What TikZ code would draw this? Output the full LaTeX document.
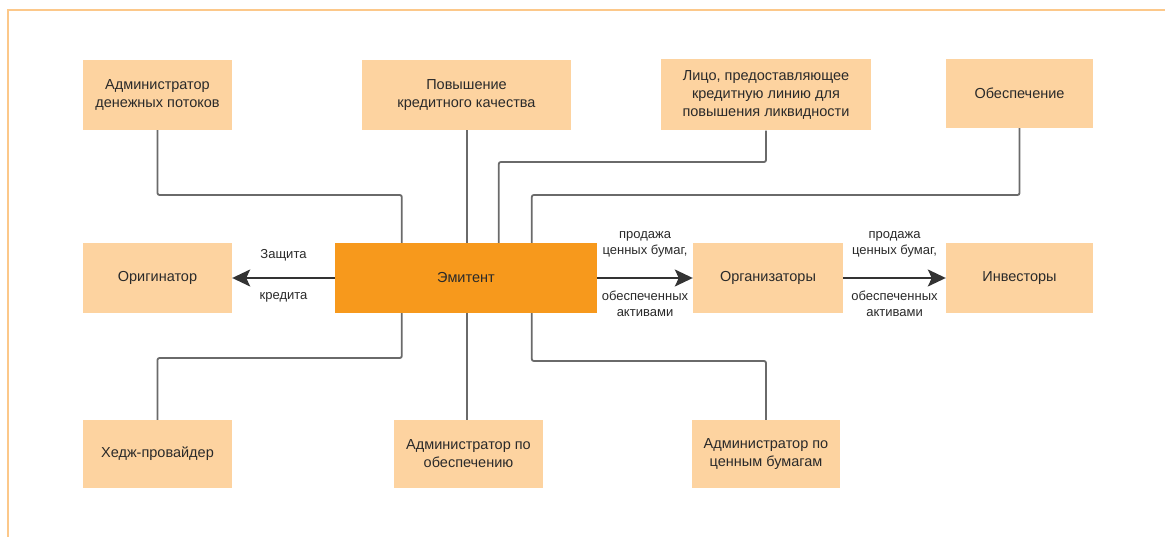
\documentclass[tikz,border=0pt]{standalone}
\usepackage{fontspec}
\setmainfont{Liberation Sans}
\usetikzlibrary{arrows.meta,calc}
\definecolor{boxfill}{HTML}{FDD3A0}
\definecolor{emifill}{HTML}{F7991C}
\definecolor{framecol}{HTML}{FCC88A}
\definecolor{conncol}{HTML}{6A6A6A}
\definecolor{txtcol}{HTML}{2A2A2A}
\definecolor{arrcol}{HTML}{333333}
\tikzset{
  box/.style={fill=boxfill, draw=none, text=txtcol, align=center, inner sep=0pt,
    font=\fontsize{14.5}{18}\selectfont},
  emibox/.style={box, fill=emifill},
  conn/.style={draw=conncol, line width=1.8pt, rounded corners=2pt},
  arr/.style={draw=arrcol, line width=1.8pt, -{Stealth[length=18pt,width=17pt,inset=4pt]}},
  lbl/.style={text=txtcol, align=center, inner sep=0pt, font=\fontsize{13}{16}\selectfont},
}
\begin{document}
\begin{tikzpicture}[x=1pt,y=-1pt]
\useasboundingbox (0,0) rectangle (1165,537);
\fill[white] (0,0) rectangle (1165,537);
\draw[framecol, line width=1.5pt] (8,537) -- (8,10) -- (1165,10);

% top row
\node[box, minimum width=149pt, minimum height=70pt] (adm) at (157.5,95) {Администратор\\денежных потоков};
\node[box, minimum width=209pt, minimum height=70pt] (pov) at (466.5,95) {Повышение\\кредитного качества};
\node[box, minimum width=210pt, minimum height=71pt] (lic) at (766,95) {Лицо, предоставляющее\\кредитную линию для\\повышения ликвидности};
\node[box, minimum width=147pt, minimum height=69pt] (obe) at (1019.5,93.5) {Обеспечение};

% middle row
\node[box, minimum width=149pt, minimum height=70pt] (ori) at (157.5,278) {Оригинатор};
\node[emibox, minimum width=262pt, minimum height=70pt] (emi) at (466,278) {Эмитент};
\node[box, minimum width=150pt, minimum height=70pt] (orz) at (768,278) {Организаторы};
\node[box, minimum width=147pt, minimum height=70pt] (inv) at (1019.5,278) {Инвесторы};

% bottom row
\node[box, minimum width=149pt, minimum height=68pt] (hed) at (157.5,454) {Хедж-провайдер};
\node[box, minimum width=149pt, minimum height=68pt] (ado) at (468.5,454) {Администратор по\\обеспечению};
\node[box, minimum width=148pt, minimum height=68pt] (adc) at (766,454) {Администратор по\\ценным бумагам};

% attachment points on Emitent
\coordinate (et1) at ([xshift=67pt]emi.north west);
\coordinate (et2) at ([xshift=132pt]emi.north west);
\coordinate (et3) at ([xshift=164pt]emi.north west);
\coordinate (et4) at ([xshift=197pt]emi.north west);
\coordinate (eb1) at ([xshift=67pt]emi.south west);
\coordinate (eb2) at ([xshift=132pt]emi.south west);
\coordinate (eb3) at ([xshift=197pt]emi.south west);

% connectors top
\draw[conn] (adm.south) -- (adm.south |- 0,195) -| (et1);
\draw[conn] (et2 |- pov.south) -- (et2);
\draw[conn] (lic.south) -- (lic.south |- 0,162) -| (et3);
\draw[conn] (obe.south) -- (obe.south |- 0,195) -| (et4);
% connectors bottom
\draw[conn] (eb1) -- (eb1 |- 0,358) -| (hed.north);
\draw[conn] (eb2) -- (eb2 |- ado.north);
\draw[conn] (eb3) -- (eb3 |- 0,361) -| (adc.north);

% arrows
\draw[arr] (emi.west) -- (ori.east)
  node[lbl, midway, yshift=23pt] (l1) {Защита}
  node[lbl, midway, yshift=-19pt] (l2) {кредита};
\draw[arr] (emi.east) -- (orz.west)
  node[lbl, midway, yshift=34pt] (l3) {продажа\\ценных бумаг,}
  node[lbl, midway, yshift=-26pt] (l4) {обеспеченных\\активами};
\draw[arr] (orz.east) -- (inv.west)
  node[lbl, midway, yshift=34pt] (l5) {продажа\\ценных бумаг,}
  node[lbl, midway, yshift=-26pt] (l6) {обеспеченных\\активами};
\end{tikzpicture}
\end{document}
